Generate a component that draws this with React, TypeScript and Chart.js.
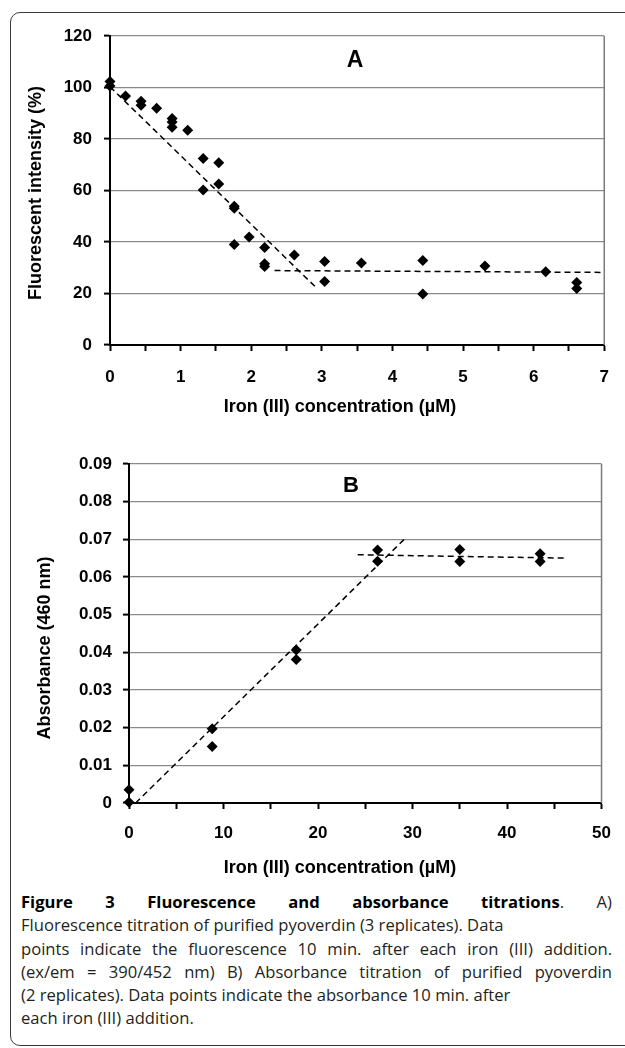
import React, { useEffect, useRef } from 'react';
import { Chart, registerables } from 'chart.js';
Chart.register(...registerables);

// ---------- Panel A data ----------
const fluoX = [0, 0, 0.22, 0.44, 0.44, 0.66, 0.88, 0.88, 0.88, 1.1, 1.32, 1.32, 1.54, 1.54, 1.76, 1.76, 1.76, 1.97, 2.19, 2.19, 2.19, 2.61, 3.04, 3.04, 3.56, 4.43, 4.43, 5.31, 6.17, 6.61, 6.61];
const fluoY = [102.3, 100.6, 96.7, 94.7, 93.1, 91.9, 88, 86.6, 84.6, 83.4, 72.4, 60.2, 70.8, 62.5, 53.9, 53.1, 39, 41.9, 37.9, 31.6, 30.5, 35, 32.4, 24.7, 31.8, 32.8, 19.8, 30.7, 28.4, 24.3, 21.9];
const fitA1X = [0, 2.93];
const fitA1Y = [100.3, 22];
const fitA2X = [2.33, 6.95];
const fitA2Y = [28.9, 28.2];
const xTicksA = ['0', '1', '2', '3', '4', '5', '6', '7'];
const yTicksA = ['0', '20', '40', '60', '80', '100', '120'];

// ---------- Panel B data ----------
const absX = [0, 0, 8.8, 8.8, 17.7, 17.7, 26.3, 26.3, 35, 35, 43.5, 43.5];
const absY = [0.0035, 0.0002, 0.0197, 0.015, 0.0406, 0.0381, 0.0672, 0.0642, 0.0673, 0.0641, 0.0662, 0.0641];
const fitB1X = [0.7, 29.2];
const fitB1Y = [0, 0.0702];
const fitB2X = [24.2, 46.4];
const fitB2Y = [0.0659, 0.065];
const xTicksB = ['0', '10', '20', '30', '40', '50'];
const yTicksB = ['0', '0.01', '0.02', '0.03', '0.04', '0.05', '0.06', '0.07', '0.08', '0.09'];

const xTitle = 'Iron (III) concentration (µM)';
const yTitleA = 'Fluorescent intensity (%)';
const yTitleB = 'Absorbance (460 nm)';

const captionBold = 'Figure 3 Fluorescence and absorbance titrations';
const captionLines = [
  '. A)',
  'Fluorescence titration of purified pyoverdin (3 replicates). Data',
  'points indicate the fluorescence 10 min. after each iron (III) addition.',
  '(ex/em = 390/452 nm) B) Absorbance titration of purified pyoverdin',
  '(2 replicates). Data points indicate the absorbance 10 min. after',
  'each iron (III) addition.',
];

const FONT = '"Liberation Sans", Arial, Helvetica, sans-serif';

type Panel = {
  w: number; h: number;
  area: { left: number; top: number; right: number; bottom: number };
  xMin: number; xMax: number; xStep: number; xLabelStep: number; xLabels: string[]; xPad: number;
  yMin: number; yMax: number; yStep: number; yLabels: string[]; yPad: number;
  px: number[]; py: number[];
  fits: { x: number[]; y: number[] }[];
  letter: string; letterX: number; letterY: number; letterSize: number;
  yTitle: string; yTitleX: number; yTitleY: number;
  xTitleX: number; xTitleY: number;
};

function zip(xs: number[], ys: number[]) {
  return xs.map((x, i) => ({ x, y: ys[i] }));
}

function PanelChart({ p, top }: { p: Panel; top: number }) {
  const ref = useRef<HTMLCanvasElement | null>(null);
  useEffect(() => {
    if (!ref.current) return;
    const decor = {
      id: 'decor',
      beforeDatasetsDraw(chart: any) {
        const { ctx, chartArea: a } = chart;
        ctx.save();
        ctx.strokeStyle = '#7a7a7a';
        ctx.lineWidth = 1.5;
        ctx.beginPath();
        ctx.moveTo(a.right, a.top);
        ctx.lineTo(a.right, a.bottom);
        ctx.stroke();
        ctx.restore();
      },
      afterDraw(chart: any) {
        const { ctx } = chart;
        ctx.save();
        ctx.fillStyle = '#000';
        ctx.textAlign = 'center';
        ctx.textBaseline = 'middle';
        ctx.font = `bold ${p.letterSize}px ${FONT}`;
        ctx.fillText(p.letter, p.letterX, p.letterY);
        ctx.font = `bold 18px ${FONT}`;
        ctx.fillText(xTitle, p.xTitleX, p.xTitleY);
        ctx.translate(p.yTitleX, p.yTitleY);
        ctx.rotate(-Math.PI / 2);
        ctx.fillText(p.yTitle, 0, 0);
        ctx.restore();
      },
    };
    const tickFont = { family: FONT, size: 17, weight: 'bold' as const };
    const chart = new Chart(ref.current, {
      type: 'scatter',
      data: {
        datasets: [
          {
            data: zip(p.px, p.py),
            pointStyle: 'rectRot',
            pointRadius: 5.5,
            pointHoverRadius: 5.5,
            backgroundColor: '#000',
            borderColor: '#000',
            borderWidth: 0,
            clip: false,
          },
          ...p.fits.map((f) => ({
            data: zip(f.x, f.y),
            showLine: true,
            pointRadius: 0,
            borderColor: '#000',
            borderWidth: 1.5,
            borderDash: [6, 4],
            fill: false,
          })),
        ],
      },
      options: {
        responsive: false,
        animation: false,
        events: [],
        layout: { padding: { left: 0, top: p.area.top, right: p.w - p.area.right, bottom: 0 } },
        plugins: { legend: { display: false }, tooltip: { enabled: false }, title: { display: false } },
        scales: {
          x: {
            type: 'linear',
            min: p.xMin,
            max: p.xMax,
            ticks: {
              stepSize: p.xStep,
              autoSkip: false,
              maxRotation: 0,
              padding: p.xPad,
              color: '#000',
              font: tickFont,
              callback: (v: any) => {
                const k = Number(v) / p.xLabelStep;
                const r = Math.round(k);
                return Math.abs(k - r) < 1e-6 ? p.xLabels[r] ?? '' : '';
              },
            },
            grid: { drawOnChartArea: false, drawTicks: true, tickLength: 6, tickColor: '#000', tickWidth: 2 },
            border: { display: true, color: '#000', width: 2 },
            afterFit: (s: any) => { s.height = p.h - p.area.bottom; },
          },
          y: {
            type: 'linear',
            min: p.yMin,
            max: p.yMax,
            ticks: {
              stepSize: p.yStep,
              padding: p.yPad,
              color: '#000',
              font: tickFont,
              callback: (_v: any, i: number) => p.yLabels[i],
            },
            grid: { color: '#8a8a8a', lineWidth: 1.2, tickLength: 6, tickColor: '#000', tickWidth: 2 },
            border: { display: true, color: '#000', width: 2 },
            afterFit: (s: any) => { s.width = p.area.left; },
          },
        },
      },
      plugins: [decor],
    } as any);
    return () => chart.destroy();
  }, [p]);
  return (
    <canvas
      ref={ref}
      width={p.w}
      height={p.h}
      style={{ position: 'absolute', left: 0, top, width: p.w, height: p.h }}
    />
  );
}

const panelA: Panel = {
  w: 625, h: 430,
  area: { left: 110, top: 36, right: 616, bottom: 345 },
  xMin: 0, xMax: 7, xStep: 0.5, xLabelStep: 1, xLabels: xTicksA, xPad: 16,
  yMin: 0, yMax: 120, yStep: 20, yLabels: yTicksA, yPad: 12,
  px: fluoX, py: fluoY,
  fits: [{ x: fitA1X, y: fitA1Y }, { x: fitA2X, y: fitA2Y }],
  letter: 'A', letterX: 355, letterY: 61, letterSize: 23,
  yTitle: yTitleA, yTitleX: 36, yTitleY: 193,
  xTitleX: 340, xTitleY: 407,
};

const panelB: Panel = {
  w: 625, h: 460,
  area: { left: 129, top: 34, right: 614, bottom: 373 },
  xMin: 0, xMax: 50, xStep: 5, xLabelStep: 10, xLabels: xTicksB, xPad: 14,
  yMin: 0, yMax: 0.09, yStep: 0.01, yLabels: yTicksB, yPad: 11,
  px: absX, py: absY,
  fits: [{ x: fitB1X, y: fitB1Y }, { x: fitB2X, y: fitB2Y }],
  letter: 'B', letterX: 351, letterY: 56, letterSize: 22,
  yTitle: yTitleB, yTitleX: 45, yTitleY: 218,
  xTitleX: 340, xTitleY: 438,
};

export default function App() {
  const capStyle: React.CSSProperties = {
    position: 'absolute',
    left: 21,
    width: 591,
    whiteSpace: 'nowrap',
    fontFamily: '"Open Sans", "Noto Sans", sans-serif',
    fontSize: 16.6,
    lineHeight: '23px',
    color: '#231f20',
  };
  const lineTops = [890, 913, 937, 960, 983, 1006];
  const just: React.CSSProperties = { textAlign: 'justify', textAlignLast: 'justify' as any };
  return (
    <div style={{ position: 'absolute', left: 0, top: 0, width: 625, height: 1048, overflow: 'hidden', background: '#fff' }}>
      <div
        style={{
          position: 'absolute', left: 10, top: 12, width: 640, height: 1034,
          border: '1.5px solid #3a3a3a', borderRadius: 10, boxSizing: 'border-box',
        }}
      />
      <PanelChart p={panelA} top={0} />
      <PanelChart p={panelB} top={430} />
      <div style={{ ...capStyle, ...just, top: lineTops[0] }}>
        <b style={{ color: '#000' }}>{captionBold}</b>{captionLines[0]}
      </div>
      <div style={{ ...capStyle, top: lineTops[1] }}>{captionLines[1]}</div>
      <div style={{ ...capStyle, ...just, top: lineTops[2] }}>{captionLines[2]}</div>
      <div style={{ ...capStyle, ...just, top: lineTops[3] }}>{captionLines[3]}</div>
      <div style={{ ...capStyle, top: lineTops[4] }}>{captionLines[4]}</div>
      <div style={{ ...capStyle, top: lineTops[5] }}>{captionLines[5]}</div>
    </div>
  );
}
